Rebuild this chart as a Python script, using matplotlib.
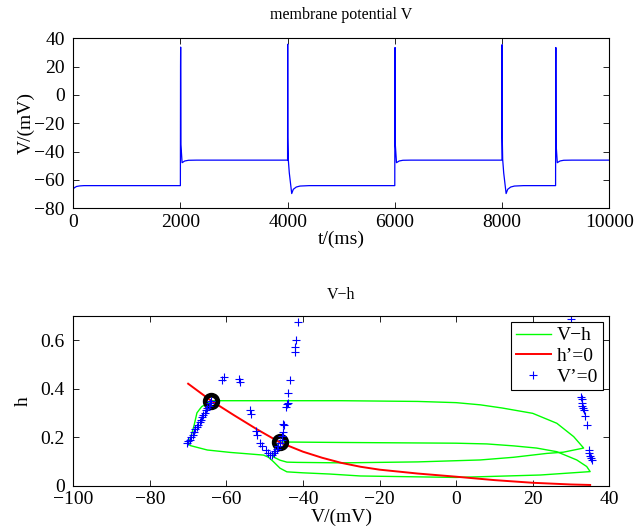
import numpy as np
import matplotlib
matplotlib.use('Agg')
import matplotlib.pyplot as plt

plt.rcParams['font.family'] = ['Liberation Serif', 'DejaVu Serif']
plt.rcParams['font.size'] = 14
plt.rcParams['axes.unicode_minus'] = True

# membrane potential trace
t_pts = [0, 20, 60, 120, 200, 1998, 2001, 2003, 2008, 2030, 2080, 2150, 2300,
         3998, 4000, 4003, 4011, 4030, 4075, 4105, 4160, 4230, 4400,
         5998, 6001, 6003, 6008, 6030, 6080, 6150, 6300,
         7998, 8000, 8003, 8011, 8030, 8075, 8105, 8160, 8230, 8400,
         8998, 9001, 9003, 9008, 9030, 9080, 9150, 9300, 10000]
v_pts = [-66.3, -65.5, -64.6, -64.2, -64.0, -64.0, 20.0, 33.8, -35.0, -47.8, -46.6, -46.1, -46.0,
         -46.0, 35.8, -30.0, -45.5, -55.0, -69.6, -66.6, -65.0, -64.3, -64.0,
         -64.0, 20.0, 33.5, -35.0, -47.8, -46.6, -46.1, -46.0,
         -46.0, 35.5, -30.0, -45.5, -55.0, -69.6, -66.6, -65.0, -64.3, -64.0,
         -64.0, 20.0, 33.5, -35.0, -47.8, -46.6, -46.1, -46.0, -46.0]

# V-h trajectory pieces
loopA_v = [-64, -50, -30, -10, 0, 6.3, 12, 20, 26.3, 30.7, 33.3,
           28, 23.7, 15, 6.3, -10, -30, -41.6, -44.2, -46, -47.7, -47.5, -47, -46.5, -46]
loopA_h = [0.35, 0.35, 0.35, 0.347, 0.342, 0.333, 0.32, 0.298, 0.257, 0.202, 0.155,
           0.138, 0.133, 0.117, 0.106, 0.098, 0.094, 0.096, 0.097, 0.105, 0.118, 0.135, 0.155, 0.17, 0.18]
loopB_v = [-46, -30, -10, 0, 8, 15, 21, 26.3, 31.5, 34.1, 35,
           22, 0, -25, -33, -40, -44.2, -46, -47.8, -49, -50.3, -55, -59, -65, -69.4, -70,
           -69.3, -68.5, -67.7, -66.5, -65, -64]
loopB_h = [0.18, 0.178, 0.176, 0.175, 0.172, 0.164, 0.155, 0.14, 0.106, 0.079, 0.058,
           0.044, 0.034, 0.04, 0.048, 0.053, 0.057, 0.072, 0.1, 0.117, 0.126, 0.132, 0.137, 0.147, 0.165, 0.172,
           0.2, 0.245, 0.3, 0.325, 0.34, 0.35]

# h' = 0 nullcline
null_h_v = [-70, -64, -58, -52, -46, -40, -35, -30, -25, -20, -10, 0, 10, 20, 30, 35]
null_h_h = [0.42, 0.35, 0.29, 0.232, 0.178, 0.14, 0.115, 0.094, 0.078, 0.066, 0.05, 0.037, 0.023, 0.012, 0.005, 0.003]

# V' = 0 points
null_v_v = [-70.3, -70.0, -69.6, -69.2, -68.8, -68.5, -68.1, -67.7, -67.3, -67.0, -66.7, -66.3,
            -66.0, -65.6, -65.3, -65.0, -64.6, -64.3, -64.0,
            -61.2, -60.7, -56.8, -56.5, -53.8, -53.5, -52.2, -51.9, -51.2, -50.6, -49.6, -49.1,
            -48.5, -48.0, -47.6, -47.2, -46.8, -46.4, -46.0, -45.6, -45.4, -45.2, -45.1, -44.9,
            -44.4, -44.2, -44.0, -43.8, -43.3, -42.2, -42.1, -41.9, -41.3,
            30.1, 32.6, 32.8, 32.9, 33.0, 33.1, 33.3, 33.7, 34.2, 34.6, 34.8, 35.0, 35.2, 35.4]
null_v_h = [0.175, 0.182, 0.19, 0.2, 0.21, 0.22, 0.232, 0.242, 0.252, 0.262, 0.272, 0.282,
            0.29, 0.3, 0.31, 0.32, 0.33, 0.34, 0.35,
            0.435, 0.448, 0.441, 0.428, 0.31, 0.294, 0.225, 0.21, 0.177, 0.165, 0.145, 0.135,
            0.128, 0.125, 0.133, 0.143, 0.153, 0.165, 0.175, 0.19, 0.205, 0.22, 0.256, 0.25,
            0.325, 0.335, 0.34, 0.38, 0.435, 0.552, 0.572, 0.6, 0.675,
            0.688, 0.367, 0.355, 0.34, 0.33, 0.32, 0.313, 0.285, 0.25, 0.148, 0.135, 0.122, 0.114, 0.107]

# fixed points
fix_v = [-64, -46]
fix_h = [0.35, 0.18]

fig = plt.figure(figsize=(6.44, 5.3), dpi=100)

ax1 = fig.add_axes([0.1138, 0.607, 0.8323, 0.3207])
ax1.plot(t_pts, v_pts, color='blue', lw=0.9)
ax1.set_xlim(0, 10000)
ax1.set_ylim(-80, 40)
ax1.set_xticks(np.arange(0, 10001, 2000))
ax1.set_yticks(np.arange(-80, 41, 20))
ax1.set_xlabel('t/(ms)', labelpad=0)
ax1.set_ylabel('V/(mV)', labelpad=0)
ax1.set_title('membrane potential V', fontsize=11.5, pad=14)

ax2 = fig.add_axes([0.1138, 0.0836, 0.8323, 0.3207])
ax2.plot(loopA_v, loopA_h, color=(0, 1, 0), lw=1.0, label='V\u2212h')
ax2.plot(loopB_v, loopB_h, color=(0, 1, 0), lw=1.0)
ax2.plot(null_h_v, null_h_h, color='red', lw=1.4, label='h\u2019=0')
ax2.plot(fix_v, fix_h, 'o', ms=9, mfc='none', mec='black', mew=3.5)
ax2.plot(null_v_v, null_v_h, '+', color='blue', ms=6, mew=0.8, label='V\u2019=0')
ax2.set_xlim(-100, 40)
ax2.set_ylim(0, 0.7)
ax2.set_xticks(np.arange(-100, 41, 20))
ax2.set_yticks([0, 0.2, 0.4, 0.6])
ax2.set_yticklabels(['0', '0.2', '0.4', '0.6'])
ax2.set_xlabel('V/(mV)', labelpad=0)
ax2.set_ylabel('h', labelpad=6)
ax2.set_title('V\u2212h', fontsize=11.5, pad=12)
leg = ax2.legend(loc='upper right', bbox_to_anchor=(0.988, 0.963), borderaxespad=0,
                 fancybox=False, framealpha=1, edgecolor='black', numpoints=1,
                 handlelength=1.8, handletextpad=0.3, labelspacing=0.15, borderpad=0.25,
                 fontsize=14)
leg.get_frame().set_linewidth(0.8)

for ax in (ax1, ax2):
    ax.tick_params(direction='in', top=True, right=True, length=4, width=0.6, labelsize=14)
    ax.tick_params(axis='y', pad=6)
    ax.tick_params(axis='x', pad=4)
    for s in ax.spines.values():
        s.set_linewidth(0.8)

fig.savefig('out.png', dpi=100)
